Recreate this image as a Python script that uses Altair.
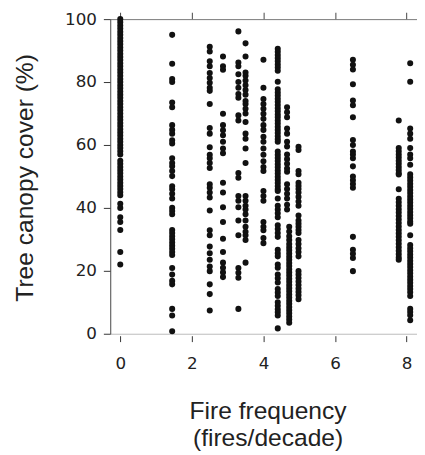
import altair as alt
import pandas as pd

# Fire frequency (fires/decade) of each group of sites
fire_freq = [0, 1.45, 2.5, 2.87, 3.3, 3.5, 4.0, 4.4, 4.66, 4.72, 4.98, 6.5, 7.78, 8.1]

# Tree canopy cover (%) read for each group
cover_0 = [100, 99, 98, 97, 96, 95, 94, 93, 92, 91, 90, 89, 88, 87, 86, 85, 84, 83, 82, 81,
           80, 79, 78, 77, 76, 75, 74, 73, 72, 71, 70, 69, 68, 67, 66, 65, 64, 63, 62, 61,
           60, 59, 58, 57, 55, 54, 53, 52, 51, 50, 49, 48, 47, 46, 45, 44, 41.3, 40, 37,
           35.5, 33, 26, 22]
cover_1_45 = [95, 85.8, 81, 80, 73.5, 72, 66.3, 64.8, 63.6, 61.5, 60.5, 55.8, 54.3, 53.2, 51.7,
              50.1, 46.9, 45.9, 44.5, 43, 40, 39, 38, 33, 32, 31, 30, 29, 28, 27, 26, 25, 20.9,
              18.8, 16.8, 15.7, 7.9, 5.8, 0.8]
cover_2_5 = [91.2, 89.7, 86.6, 85, 82.9, 81.3, 79.8, 78.2, 77.2, 73, 65.4, 63.6, 59.3, 56.9, 55.8,
             54.3, 52.7, 47.5, 46.4, 44.9, 43.3, 39.2, 32.9, 31.3, 27.7, 25.6, 23.5, 21.4, 19.9,
             15.7, 12.6, 7.4]
cover_2_87 = [88.1, 85, 83.9, 69.9, 66.3, 64.7, 63.1, 61, 58.9, 57.4, 48, 44.9, 40.2, 35.5, 30.2,
              26, 22.6, 21, 19.5, 18]
cover_3_3 = [96.1, 86.2, 85, 82.5, 80, 78.2, 76.2, 75, 69.4, 67.8, 51.1, 49.6, 43.8, 42.3, 40.2,
             36, 31.3, 20.9, 19.4, 17.8, 7.9]
cover_3_5 = [92.3, 88.1, 83, 82, 80.5, 79, 77.5, 76, 74, 73, 71.5, 70, 67.3, 63.6, 62, 58.9, 54.3,
             43.8, 42.3, 40.7, 39.5, 38, 36, 34, 32.4, 31.3, 29.8, 22.6]
cover_4_0 = [87.1, 78.2, 74.6, 73, 71.5, 69.9, 68.3, 66.3, 64.8, 62.6, 61, 58.9, 56.9, 54.8, 53,
             51.7, 45.4, 43.8, 42.3, 35.5, 34, 32.9, 30.4, 28.8]
cover_4_4 = [90.6, 89.6, 88.6, 87.6, 86.6, 85.6, 84.6, 83.6, 80.1, 77.7, 76.7, 75.7, 74.7, 73.7,
             72.7, 71.7, 70.7, 69.7, 68.8, 67.8, 66.8, 65.8, 64.8, 63.8, 62.8, 61.8, 61, 57.9,
             56.9, 55.9, 54.9, 53.9, 52.9, 51.9, 50.9, 49.9, 48.9, 47.9, 46.9, 45.9, 45.4, 43,
             40.7, 39.5, 38.3, 37, 34.5, 33.3, 32, 30.8, 26.7, 25.6, 24.6, 22, 21, 18.8, 17.6,
             16.3, 14.2, 13.1, 12, 10, 8.9, 7.8, 6.8, 5.8, 1.7]
cover_4_66 = [72, 70.4, 68.8, 65.2, 63.6, 61, 59.5, 57, 55.5, 54, 52.5, 51.5, 47.5, 46, 44.5, 43,
              41, 39.5]
cover_4_72 = [34, 32.5, 31, 29.8, 28.5, 27.5, 26.5, 25.5, 24.5, 23.5, 22.5, 21.5, 20.5, 19.5,
              18.5, 17.5, 16.5, 15.5, 14.5, 13.5, 12.5, 11.5, 10.5, 9.5, 8.5, 7.5, 6.5, 5.5, 4.5,
              3.5]
cover_4_98 = [59.4, 58.4, 51.7, 50.7, 48, 47, 46, 44.9, 43.5, 42, 40.7, 37.6, 36, 35, 34, 33, 32,
              29.8, 28.5, 27.2, 26, 24.6, 19.9, 18.8, 17.7, 16.6, 15.5, 14.4, 13.3, 12.2, 11]
cover_6_5 = [87.1, 85.5, 84, 79.3, 74.1, 72.6, 68.8, 61.6, 60, 57.9, 57, 55.8, 53.2, 50, 48.8,
             47.6, 46.4, 30.8, 26.7, 25.4, 24.1, 19.9]
cover_7_78 = [67.8, 59, 58, 57, 56, 55, 54, 53, 52, 51, 50.6, 45.9, 42.9, 41.8, 40.7, 39.6, 38.5,
              37.4, 36.3, 35.2, 34.1, 33, 31.9, 30.8, 29.7, 28.6, 27.5, 26.4, 25.3, 24.2, 23.5]
cover_8_1 = [86, 80.1, 65.2, 63.6, 62, 59, 57, 55.8, 53.7, 50.7, 49.7, 48.7, 47.7, 46.7, 45.7,
             44.7, 43.7, 42.7, 41.7, 40.7, 39.7, 38.7, 37.7, 36.7, 35.7, 35, 31.3, 28.2, 27.2,
             26.2, 25.2, 24.2, 23.2, 22.2, 21.2, 20.2, 19.2, 18.2, 17.2, 16.2, 15.2, 14.2, 13.2,
             12, 7.9, 6.9, 5.9, 4.3]

cover_groups = [cover_0, cover_1_45, cover_2_5, cover_2_87, cover_3_3, cover_3_5, cover_4_0,
                cover_4_4, cover_4_66, cover_4_72, cover_4_98, cover_6_5, cover_7_78, cover_8_1]

x_ticks = [0, 2, 4, 6, 8]
y_ticks = [0, 20, 40, 60, 80, 100]

rows = []
for f, group in zip(fire_freq, cover_groups):
    for c in group:
        rows.append({"fire": f, "cover": c})
df = pd.DataFrame(rows)

FONT = "Liberation Sans"
LABEL_FONT = "DejaVu Sans"
TXT = "#222222"

xscale = alt.Scale(domain=[-0.28, 8.29], nice=False, zero=False)
yscale = alt.Scale(domain=[0, 100], nice=False, zero=False)

base = alt.Chart(df)

points = base.mark_circle(size=38, color="#111111", opacity=1).encode(
    x=alt.X("fire:Q", scale=xscale,
            axis=alt.Axis(orient="bottom", values=x_ticks, domain=False, grid=False,
                          offset=2, tickSize=6, tickColor="#333333", tickWidth=1,
                          labelFontSize=17, labelFont=LABEL_FONT, labelColor=TXT,
                          labelPadding=14, labelBaseline="top",
                          title=["Fire frequency", "(fires/decade)"],
                          titleFont=FONT, titleFontSize=25, titleFontWeight="normal",
                          titleColor=TXT, titleLineHeight=27, titleBaseline="alphabetic",
                          titleX=160, titleY=84.4, titleAnchor="middle", titleAlign="center")),
    y=alt.Y("cover:Q", scale=yscale,
            axis=alt.Axis(orient="left", values=y_ticks, grid=False,
                          domain=True, domainColor="#444444", domainWidth=1,
                          tickSize=7, tickColor="#333333", tickWidth=1,
                          labelFontSize=17, labelFont=LABEL_FONT, labelColor=TXT, labelPadding=7,
                          title="Tree canopy cover (%)", titleFont=FONT, titleFontSize=25,
                          titleFontWeight="normal", titleColor=TXT, titleAngle=270,
                          titleBaseline="alphabetic", titleAlign="center",
                          titleX=-79, titleY=161)),
)

bottom_line = base.mark_circle(opacity=0).encode(
    x=alt.X("fire:Q", scale=xscale,
            axis=alt.Axis(orient="bottom", domain=True, domainColor="#bbbbbb", domainWidth=1,
                          ticks=False, labels=False, grid=False, title=None)),
)

top_line = base.mark_circle(opacity=0).encode(
    x=alt.X("fire:Q", scale=xscale,
            axis=alt.Axis(orient="top", values=x_ticks, domain=True, domainColor="#777777",
                          domainWidth=1, ticks=True, tickSize=7, tickColor="#444444",
                          labels=False, grid=False, title=None)),
)

chart = alt.layer(points, bottom_line, top_line).resolve_axis(x="independent").properties(
    width=312, height=320,
    autosize=alt.AutoSizeParams(type="none"),
    padding={"left": 104, "top": 7.5, "right": 0, "bottom": 119},
    background="white",
).configure_view(stroke=None)

chart.save("out.html", embed_options={"renderer": "svg", "actions": False})
